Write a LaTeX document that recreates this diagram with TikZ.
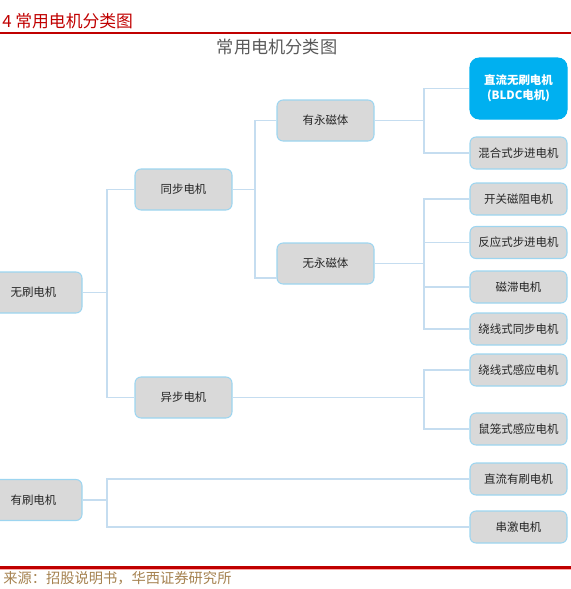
\documentclass[tikz,border=0pt]{standalone}
\usepackage{fontspec}
\setmainfont{Noto Sans CJK SC}
\definecolor{boxfill}{HTML}{D9D9D9}
\definecolor{boxborder}{HTML}{9DD5F0}
\definecolor{connc}{HTML}{C5DDF0}
\definecolor{bldcfill}{HTML}{00B0F0}
\definecolor{txtc}{HTML}{262626}
\definecolor{hdrred}{HTML}{C00000}
\definecolor{titlegray}{HTML}{595959}
\definecolor{srcc}{RGB}{165,130,80}
\begin{document}
\begin{tikzpicture}[x=0.75pt,y=-0.75pt,
  mbox/.style={draw=boxborder, fill=boxfill, rounded corners=4.5pt, line width=0.8pt,
    minimum width=72.75pt, minimum height=30.75pt, inner sep=0pt, text=txtc,
    font=\fontsize{8.6}{10}\selectfont},
  sbox/.style={mbox, minimum height=24pt},
  bldcbox/.style={mbox, fill=bldcfill, draw=bldcfill, rounded corners=7pt, minimum height=45.75pt, text=white,
    align=center, font=\fontsize{8.6}{11.25}\selectfont\bfseries},
  conn/.style={draw=connc, line width=0.9pt}]
\useasboundingbox (0,0) rectangle (571,589);
% header
\node[anchor=west, text=hdrred, inner sep=0pt, font=\fontsize{12.6}{14}\selectfont] (hdr) at (2,21) {4 常用电机分类图};
\draw[hdrred, line width=0.8pt] (0,33) -- (571,33);
\node[text=titlegray, inner sep=0pt, font=\fontsize{12.9}{15}\selectfont] (title) at (277,47) {常用电机分类图};
% footer
\draw[red!35, line width=0.8pt] (0,569.5) -- (571,569.5);
\draw[hdrred, line width=1.6pt] (0,567.5) -- (571,567.5);
\node[anchor=west, text=srcc, inner sep=0pt, font=\fontsize{10.7}{13}\selectfont] (src) at (3,578) {来源：招股说明书，华西证券研究所};
% nodes
\node[mbox] (wushua) at (33.5,292.5) {无刷电机};
\node[mbox] (youshua) at (33.5,500) {有刷电机};
\node[mbox] (tongbu) at (183.5,189.5) {同步电机};
\node[mbox] (yibu) at (183.5,397.5) {异步电机};
\node[mbox] (youyong) at (325.5,120.5) {有永磁体};
\node[mbox] (wuyong) at (325.5,263.5) {无永磁体};
\node[bldcbox] (bldc) at (518.5,88.5) {直流无刷电机\\(BLDC电机)};
\node[sbox] (hunhe) at (518.5,153) {混合式步进电机};
\node[sbox] (kaiguan) at (518.5,199) {开关磁阻电机};
\node[sbox] (fanying) at (518.5,242.5) {反应式步进电机};
\node[sbox] (cizhi) at (518.5,287) {磁滞电机};
\node[sbox] (raotb) at (518.5,329) {绕线式同步电机};
\node[sbox] (raogy) at (518.5,370) {绕线式感应电机};
\node[sbox] (shulong) at (518.5,429) {鼠笼式感应电机};
\node[sbox] (zlys) at (518.5,479) {直流有刷电机};
\node[sbox] (chuanji) at (518.5,527) {串激电机};
% branch coordinates
\coordinate (bA) at (107,0);
\coordinate (bB) at (255,0);
\coordinate (bC) at (424,0);
\coordinate (wyin) at (277,278);
% 无刷 -> 同步/异步
\draw[conn] (wushua.east) -- (wushua.east -| bA);
\draw[conn] (tongbu.west) -- (tongbu.west -| bA) -- (yibu.west -| bA) -- (yibu.west);
% 同步 -> 有永/无永
\draw[conn] (tongbu.east) -- (tongbu.east -| bB);
\draw[conn] (youyong.west) -- (youyong.west -| bB) -- (wyin -| bB) -- (wyin);
% 有永 -> BLDC / 混合
\draw[conn] (youyong.east) -- (youyong.east -| bC);
\draw[conn] (bldc.west) -- (bldc.west -| bC) -- (hunhe.west -| bC) -- (hunhe.west);
% 无永 -> 4
\draw[conn] (wuyong.east) -- (wuyong.east -| bC);
\draw[conn] (kaiguan.west) -- (kaiguan.west -| bC) -- (raotb.west -| bC) -- (raotb.west);
\draw[conn] (fanying.west) -- (fanying.west -| bC);
\draw[conn] (cizhi.west) -- (cizhi.west -| bC);
% 异步 -> 2
\draw[conn] (yibu.east) -- (yibu.east -| bC);
\draw[conn] (raogy.west) -- (raogy.west -| bC) -- (shulong.west -| bC) -- (shulong.west);
% 有刷 -> 2
\draw[conn] (youshua.east) -- (youshua.east -| bA);
\draw[conn] (zlys.west) -- (zlys.west -| bA) -- (chuanji.west -| bA) -- (chuanji.west);
\end{tikzpicture}
\end{document}
